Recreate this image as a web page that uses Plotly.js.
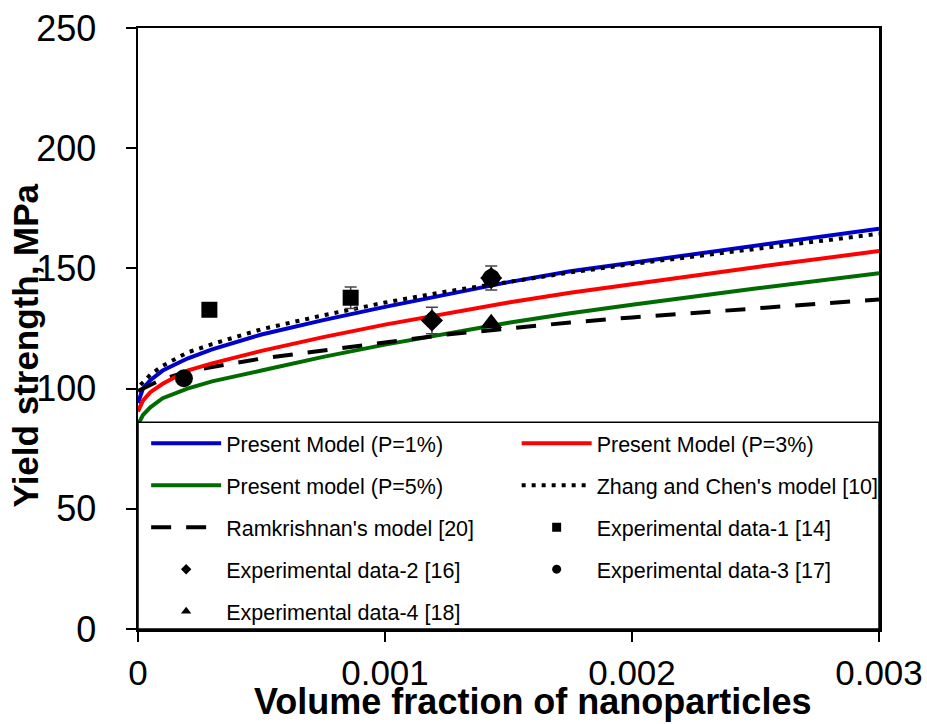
<!DOCTYPE html>
<html>
<head>
<meta charset="utf-8">
<script src="https://cdn.plot.ly/plotly-3.0.1.min.js"></script>
<style>html,body{margin:0;padding:0;background:#fff;}#chart{width:927px;height:724px;}</style>
</head>
<body>
<div id="chart"></div>
<script>
// Model curves (volume fraction vs yield strength, MPa)
const xModel = [0, 0.00002, 0.00005, 0.0001, 0.0002, 0.0003, 0.0005, 0.00075, 0.001, 0.00125, 0.0015, 0.00175, 0.002, 0.0025, 0.003];
const yP1 = [94, 100, 103.5, 107.5, 112.5, 116.3, 122.5, 128.5, 134, 139.3, 144.3, 148.8, 152.4, 159.5, 166.5];
const yP3 = [90.5, 95, 98.5, 102, 107.5, 110.5, 115.7, 121.4, 126.6, 131.4, 135.8, 139.9, 143.5, 150.5, 157.2];
const yP5 = [85, 89, 92.2, 96, 100, 103, 107.5, 113.2, 118.3, 123, 127.4, 131.3, 134.9, 141.6, 148];

const xZhang = [0.00001, 0.00005, 0.0001, 0.0002, 0.0003, 0.0005, 0.00075, 0.001, 0.00125, 0.0015, 0.00175, 0.002, 0.0025, 0.003];
const yZhang = [101.5, 105.8, 109.5, 115, 118.5, 124.7, 130.5, 135.8, 140.4, 144.5, 148.3, 151.8, 158.3, 164.4];

const xRam = [0, 0.0001, 0.0002, 0.0003, 0.0005, 0.00075, 0.001, 0.00125, 0.0015, 0.00175, 0.002, 0.0025, 0.003];
const yRam = [99, 104, 107, 109, 112.5, 116, 119.2, 122.5, 125.2, 127.5, 129.6, 133.5, 137.1];

// Experimental data
const xExp1 = [0.000289, 0.000861];
const yExp1 = [132.8, 137.8];
const eExp1 = [0, 4.5];
const xExp2 = [0.00119, 0.00143];
const yExp2 = [128.3, 146];
const eExp2 = [5.5, 5];
const xExp3 = [0.000186, 0.00143];
const yExp3 = [104.3, 146];
const xExp4 = [0.00143];
const yExp4 = [127.2];

const names = {
  p1: 'Present Model (P=1%)', p3: 'Present Model (P=3%)', p5: 'Present model (P=5%)',
  zhang: "Zhang and Chen's model [10]", ram: "Ramkrishnan's model [20]",
  e1: 'Experimental data-1 [14]', e2: 'Experimental data-2 [16]',
  e3: 'Experimental data-3 [17]', e4: 'Experimental data-4 [18]'
};

const FONT = '"Liberation Sans", Arial, Helvetica, sans-serif';

const traces = [
  {x: xModel, y: yP1, mode: 'lines', name: names.p1, line: {color: '#0000CC', width: 4}, legend: 'legend', legendgroup: 'a1'},
  {x: xModel, y: yP5, mode: 'lines', name: names.p5, line: {color: '#006B00', width: 4}, legend: 'legend', legendgroup: 'a2'},
  {x: xRam, y: yRam, mode: 'lines', name: names.ram, line: {color: '#000000', width: 4, dash: '20px,15px'}, legend: 'legend', legendgroup: 'a3'},
  {x: xModel, y: yP3, mode: 'lines', name: names.p3, line: {color: '#FF0000', width: 4}, legend: 'legend2', legendgroup: 'b1'},
  {x: xZhang, y: yZhang, mode: 'lines', name: names.zhang, line: {color: '#000000', width: 4, dash: '4px,6px'}, legend: 'legend2', legendgroup: 'b2'},
  // experimental points (drawn)
  {x: xExp1, y: yExp1, mode: 'markers', showlegend: false, marker: {symbol: 'square', size: 16, color: '#000'},
   error_y: {type: 'data', array: eExp1, color: '#444', thickness: 1.5, width: 6}},
  {x: xExp3, y: yExp3, mode: 'markers', showlegend: false, marker: {symbol: 'circle', size: 18, color: '#000'}},
  {x: xExp2, y: yExp2, mode: 'markers', showlegend: false, marker: {symbol: 'diamond', size: 17, color: '#000'},
   error_y: {type: 'data', array: eExp2, color: '#444', thickness: 1.5, width: 6}},
  {x: xExp4, y: yExp4, mode: 'markers', showlegend: false, marker: {symbol: 'triangle-up', size: 19, color: '#000'}},
  // legend entries for experimental data (small symbols as in the original legend)
  {x: [null], y: [null], mode: 'markers', name: names.e2, marker: {symbol: 'diamond', size: 8, color: '#000'}, legend: 'legend', legendgroup: 'a4'},
  {x: [null], y: [null], mode: 'markers', name: names.e4, marker: {symbol: 'triangle-up', size: 9, color: '#000'}, legend: 'legend', legendgroup: 'a5'},
  {x: [null], y: [null], mode: 'markers', name: names.e1, marker: {symbol: 'square', size: 9, color: '#000'}, legend: 'legend2', legendgroup: 'b3'},
  {x: [null], y: [null], mode: 'markers', name: names.e3, marker: {symbol: 'circle', size: 9, color: '#000'}, legend: 'legend2', legendgroup: 'b4'}
];

const legendCommon = {
  bgcolor: 'rgba(0,0,0,0)', borderwidth: 0, orientation: 'v',
  font: {family: FONT, size: 21.5, color: '#000'},
  itemwidth: 70, tracegroupgap: 11, xanchor: 'left', yanchor: 'top', traceorder: 'grouped'
};

const layout = {
  width: 927, height: 724,
  margin: {l: 138, r: 48, t: 28, b: 95},
  paper_bgcolor: '#fff', plot_bgcolor: '#fff',
  font: {family: FONT, color: '#000'},
  xaxis: {
    range: [0, 0.003], dtick: 0.001, tick0: 0, showgrid: false, zeroline: false,
    showline: true, linecolor: '#000', linewidth: 2.5, mirror: true,
    ticks: 'outside', ticklen: 10, tickwidth: 2, tickcolor: '#000',
    tickfont: {family: FONT, size: 35, color: '#000'}, ticklabelstandoff: 1
  },
  yaxis: {
    range: [0, 250], dtick: 50, tick0: 0, showgrid: false, zeroline: false,
    showline: true, linecolor: '#000', linewidth: 2.5, mirror: true,
    ticks: 'outside', ticklen: 10, tickwidth: 2, tickcolor: '#000',
    tickfont: {family: FONT, size: 36, color: '#000'}, ticklabelstandoff: 22
  },
  showlegend: true,
  legend: Object.assign({}, legendCommon, {x: 0.011, y: 0.343}),
  legend2: Object.assign({}, legendCommon, {x: 0.511, y: 0.343}),
  shapes: [
    {type: 'rect', xref: 'paper', yref: 'paper', x0: 0, x1: 1, y0: 0, y1: 0.344,
     fillcolor: '#fff', line: {color: '#000', width: 1.5}, layer: 'above'}
  ],
  annotations: [
    {text: '<b>Volume fraction of nanoparticles</b>', xref: 'paper', yref: 'paper', x: 0.532, y: -0.12,
     xanchor: 'center', yanchor: 'middle', showarrow: false, font: {family: FONT, size: 36, color: '#000'}},
    {text: '<b>Yield strength, MPa</b>', xref: 'paper', yref: 'paper', x: -0.152, y: 0.4725, textangle: -90,
     xanchor: 'center', yanchor: 'middle', showarrow: false, font: {family: FONT, size: 35, color: '#000'}}
  ]
};

Plotly.newPlot('chart', traces, layout, {staticPlot: true, displayModeBar: false});
</script>
</body>
</html>
